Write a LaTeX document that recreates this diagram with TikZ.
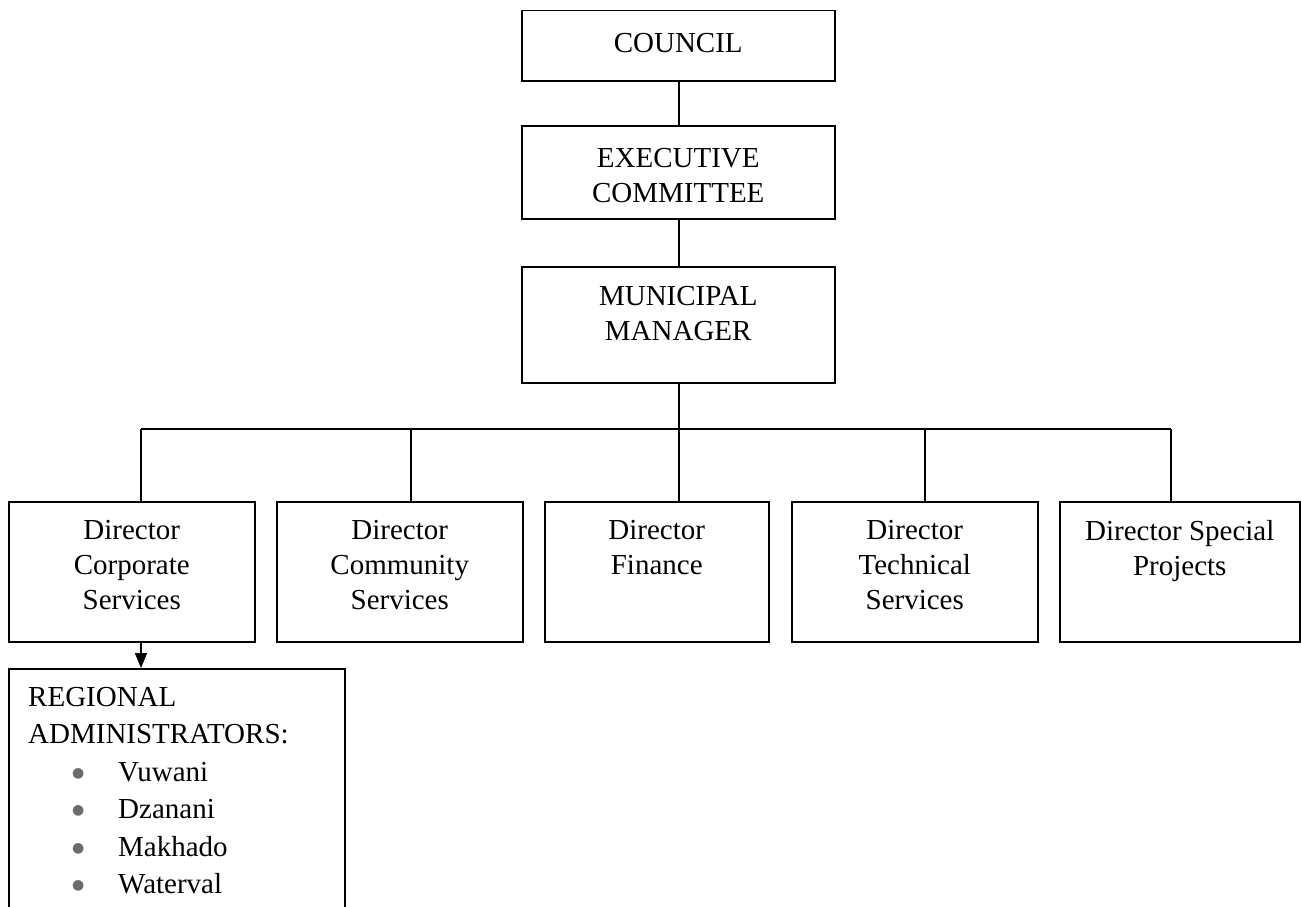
\documentclass[tikz,border=0pt]{standalone}
\usepackage{fontspec}
\setmainfont{Liberation Serif}
\newfontfamily\symfont{DejaVu Sans}
\usetikzlibrary{arrows.meta}

\newcommand{\regitem}[1]{\hspace*{44pt}\makebox[46pt][l]{\raisebox{4pt}{\textcolor{gray!85!black}{\symfont\fontsize{14}{14}\selectfont ●}}}#1}

\begin{document}
\begin{tikzpicture}[x=1pt,y=-1pt,
        unit/.style={draw,line width=1.5pt,inner sep=0pt,anchor=north west},
        title/.style={anchor=north,align=center,inner sep=0pt,yshift=-19pt,
            font=\fontsize{29}{35}\selectfont},
        link/.style={line width=1.5pt}]

    \clip (0,0) rectangle (1301,907);

    % Top of the chart
    \node[unit,minimum width=313pt,minimum height=70pt,
        label={[title,yshift=-4pt]north:COUNCIL}] (council) at (521,10) {};
    \node[unit,minimum width=313pt,minimum height=93pt,
        label={[title,yshift=-4pt]north:EXECUTIVE\\COMMITTEE}] (exec) at (521,125) {};
    \node[unit,minimum width=313pt,minimum height=116pt,
        label={[title,yshift=-1pt]north:MUNICIPAL\\MANAGER}] (mm) at (521,266) {};

    % Directors
    \node[unit,minimum width=246pt,minimum height=140pt,
        label={[title]north:Director\\Corporate\\Services}] (dcs) at (8,501) {};
    \node[unit,minimum width=246pt,minimum height=140pt,
        label={[title]north:Director\\Community\\Services}] (dcm) at (276,501) {};
    \node[unit,minimum width=224pt,minimum height=140pt,
        label={[title]north:Director\\Finance}] (dfin) at (544,501) {};
    \node[unit,minimum width=246pt,minimum height=140pt,
        label={[title]north:Director\\Technical\\Services}] (dtech) at (791,501) {};
    \node[unit,minimum width=240pt,minimum height=140pt,
        label={[title]north:Director Special\\Projects}] (dsp) at (1059,501) {};

    % Regional administrators (runs off the page)
    \node[unit,minimum width=336pt,minimum height=270pt,
        label={[title,anchor=north west,align=left,xshift=20pt,
            font=\fontsize{29}{37.5}\selectfont]north west:REGIONAL\\ADMINISTRATORS:\\
            \regitem{Vuwani}\\\regitem{Dzanani}\\\regitem{Makhado}\\\regitem{Waterval}}]
        (regional) at (8,668) {};

    % Bus below the manager
    \coordinate (b1) at (141,429);
    \coordinate (b2) at (411,429);
    \coordinate (b3) at (679,429);
    \coordinate (b4) at (925,429);
    \coordinate (b5) at (1171,429);

    \draw[link] (council.south -| b3) -- (exec.north -| b3);
    \draw[link] (exec.south -| b3) -- (mm.north -| b3);
    \draw[link] (mm.south -| b3) -- (b3);
    \draw[link] (b1) -- (b5);

    \draw[link] (b1) -- (b1 |- dcs.north);
    \draw[link] (b2) -- (b2 |- dcm.north);
    \draw[link] (b3) -- (b3 |- dfin.north);
    \draw[link] (b4) -- (b4 |- dtech.north);
    \draw[link] (b5) -- (b5 |- dsp.north);

    \draw[link,-{Triangle[width=12pt,length=15pt]}] (b1 |- dcs.south) -- (b1 |- regional.north);

\end{tikzpicture}
\end{document}
